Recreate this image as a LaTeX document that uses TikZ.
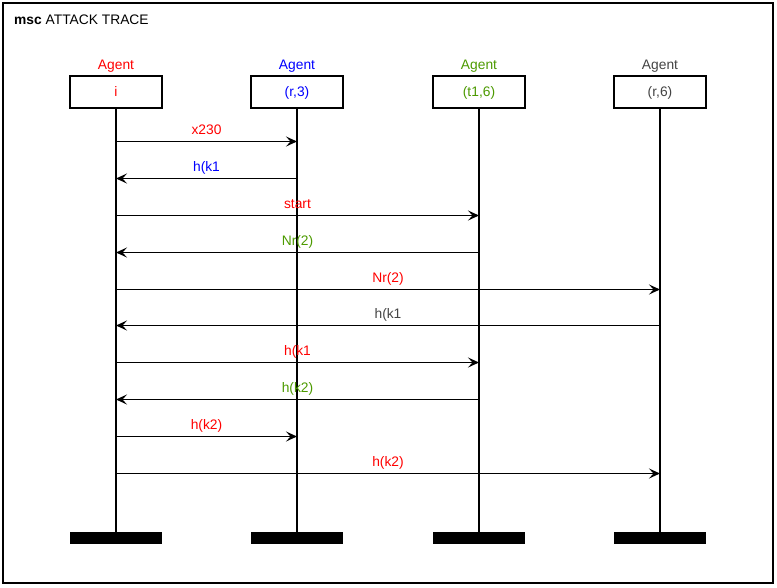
\documentclass[tikz,border=0pt]{standalone}
\usepackage{fontspec}
\setmainfont{Liberation Sans}
\usetikzlibrary{arrows.meta}
\definecolor{agred}{HTML}{FF0000}
\definecolor{agblue}{HTML}{0000FF}
\definecolor{aggreen}{HTML}{4C9A00}
\definecolor{aggrey}{HTML}{444444}
\tikzset{
  every node/.style={font=\fontsize{13.8}{16}\selectfont, inner sep=0pt},
  agentbox/.style={draw=black, line width=1.8pt, minimum width=92pt, minimum height=32pt, fill=white},
  endbar/.style={fill=black, minimum width=92pt, minimum height=12pt},
  lifeline/.style={line width=1.8pt},
  msg/.style={line width=1.8pt, -{Stealth[length=11pt, width=10pt, inset=4.5pt]}},
  lbl/.style={anchor=base, yshift=7.5pt},
  headlbl/.style={anchor=base},
}
\begin{document}
\begin{tikzpicture}[x=1pt, y=-1pt]
\useasboundingbox (0,0) rectangle (777,587);
% outer frame and title
\draw[line width=1.8pt] (3,3) rectangle (773,583);
\node[anchor=base west] (title) at (14,24) {\textbf{msc} ATTACK TRACE};

% agent headers
\node[agentbox] (i)   at (116,92) {};
\node[agentbox] (r3)  at (297,92) {};
\node[agentbox] (t16) at (479,92) {};
\node[agentbox] (r6)  at (660,92) {};
\node[headlbl, text=agred]   (ni)   at (116,69) {Agent};
\node[headlbl, text=agblue]  (nr3)  at (297,69) {Agent};
\node[headlbl, text=aggreen] (nt16) at (479,69) {Agent};
\node[headlbl, text=aggrey]  (nr6)  at (660,69) {Agent};
\node[headlbl, text=agred]   (ti)   at (116,96) {i};
\node[headlbl, text=agblue]  (tr3)  at (297,96) {(r,3)};
\node[headlbl, text=aggreen] (tt16) at (479,96) {(t1,6)};
\node[headlbl, text=aggrey]  (tr6)  at (660,96) {(r,6)};

% end bars
\node[endbar] (ie)   at (116,538) {};
\node[endbar] (r3e)  at (297,538) {};
\node[endbar] (t16e) at (479,538) {};
\node[endbar] (r6e)  at (660,538) {};

% lifelines
\draw[lifeline] (i.south)   -- (ie.north);
\draw[lifeline] (r3.south)  -- (r3e.north);
\draw[lifeline] (t16.south) -- (t16e.north);
\draw[lifeline] (r6.south)  -- (r6e.north);

% messages
\draw[msg] (i |- 0,141.5) -- node[lbl, text=agred] {x230} (r3 |- 0,141.5);
\draw[msg] (r3 |- 0,178.5) -- node[lbl, text=agblue] {h(k1} (i |- 0,178.5);
\draw[msg] (i |- 0,215.5) -- node[lbl, text=agred] {start} (t16 |- 0,215.5);
\draw[msg] (t16 |- 0,252.5) -- node[lbl, text=aggreen] {Nr(2)} (i |- 0,252.5);
\draw[msg] (i |- 0,289.5) -- node[lbl, text=agred] {Nr(2)} (r6 |- 0,289.5);
\draw[msg] (r6 |- 0,325.5) -- node[lbl, text=aggrey] {h(k1} (i |- 0,325.5);
\draw[msg] (i |- 0,362.5) -- node[lbl, text=agred] {h(k1} (t16 |- 0,362.5);
\draw[msg] (t16 |- 0,399.5) -- node[lbl, text=aggreen] {h(k2)} (i |- 0,399.5);
\draw[msg] (i |- 0,436.5) -- node[lbl, text=agred] {h(k2)} (r3 |- 0,436.5);
\draw[msg] (i |- 0,473.5) -- node[lbl, text=agred] {h(k2)} (r6 |- 0,473.5);
\end{tikzpicture}
\end{document}
